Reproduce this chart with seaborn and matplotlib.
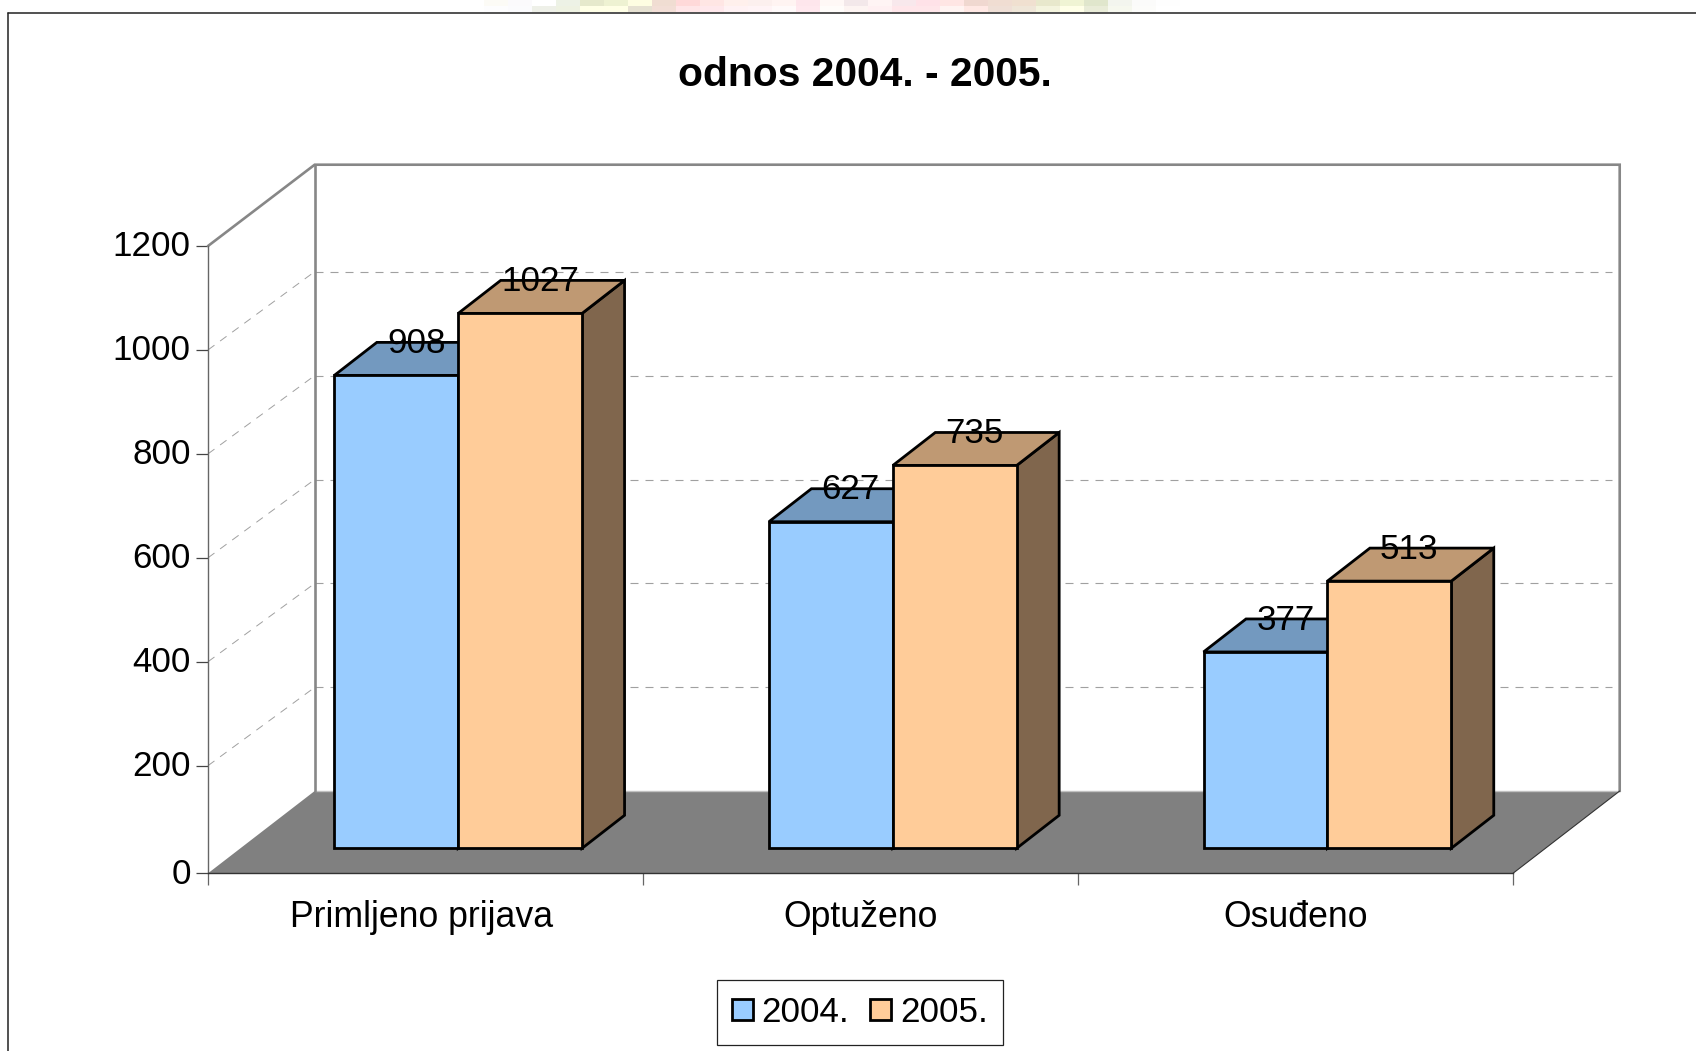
"""
plot.py
=======
Pseudo-3D clustered bars: odnos 2004. - 2005.
"""

import matplotlib
matplotlib.use("Agg")
import matplotlib.pyplot as plt
import numpy as np
import pandas as pd
import seaborn as sns
from matplotlib.colors import to_rgb
from matplotlib.lines import Line2D
from matplotlib.patches import Polygon
from matplotlib.transforms import ScaledTranslation

W, H = 1696, 1051
DPI = 100

categories = ["Primljeno prijava", "Optuženo", "Osuđeno"]
years = ["2004.", "2005."]
values_2004 = [908, 627, 377]
values_2005 = [1027, 735, 513]
y_ticks = [200, 400, 600, 800, 1000, 1200]

C_2004 = "#99CCFF"
C_2005 = "#FFCC99"
TOP = {C_2004: "#7399BF", C_2005: "#BF9973"}
SIDE = {C_2004: "#4D6680", C_2005: "#80664D"}

FONT_PT = 25.2

# washed-out remains of a page background above the chart frame
strip_top = ["#FFFFFF", "#FCFBF6", "#FBFAFC", "#FFFFFF", "#EDF2E6", "#E6E9CC", "#EEF2D2", "#FEFDE2",
             "#F0DDD2", "#FFD9D9", "#FFE6E4", "#FFF0EC", "#FCF0EE", "#FFF4F2", "#FEE6EC", "#FFF8F6",
             "#F3E8EA", "#FFF4F4", "#F8E8EC", "#FFE2E8", "#FFE6E4", "#F0D8D0", "#F0DDD2", "#F0E0D0",
             "#E8E8CC", "#F0F4D4", "#E0E6CC", "#F3F5EE", "#FBFBFA", "#FEFEFE", "#FFFFFF", "#FFFFFF",
             "#FFFFFF"]
strip_bottom = ["#FFFFFF", "#FDFDFE", "#FBFBFD", "#EEF0E8", "#EEF2E2", "#FFFFE6", "#FFFFE6", "#E6E1D2",
                "#F2DED6", "#FFE6E8", "#FFE8EC", "#FFF2F4", "#FFF4F6", "#FFFAFA", "#FFE8EE", "#FFFCFA",
                "#FDF4F2", "#FFF0F2", "#FFE6EA", "#FFE6EA", "#FFF4F2", "#FFE8E4", "#EFDFD6", "#EFE6D8",
                "#F4F4DE", "#FFFFE8", "#E9ECD8", "#F6F8EE", "#FCFCFA", "#FFFFFF", "#FFFFFF", "#FFFFFF",
                "#FFFFFF"]


def axes_px(fig, left, top, right, bottom):
    """Axes from pixel box, y counted from top of the image."""
    return fig.add_axes([left / W, 1 - bottom / H, (right - left) / W, (bottom - top) / H])


def shift_px(fig, dx, dy):
    return ScaledTranslation(dx / DPI, dy / DPI, fig.dpi_scale_trans)


sns.set_style("white")
plt.rcParams["font.family"] = ["Liberation Sans", "DejaVu Sans"]
plt.rcParams["text.color"] = "black"
plt.rcParams["xtick.labelcolor"] = "black"
plt.rcParams["ytick.labelcolor"] = "black"
plt.rcParams["lines.scale_dashes"] = False

df = pd.DataFrame({
    "kategorija": categories * 2,
    "godina": [years[0]] * 3 + [years[1]] * 3,
    "broj": values_2004 + values_2005,
})

fig = plt.figure(figsize=(W / DPI, H / DPI), dpi=DPI, facecolor="white")

strip_ax = axes_px(fig, 460, 0, 1252, 12)
strip_ax.imshow(np.array([[to_rgb(c) for c in strip_top], [to_rgb(c) for c in strip_bottom]]),
                aspect="auto", interpolation="nearest")
strip_ax.axis("off")

# chart frame, runs off the right and bottom of the image
fig.add_artist(Line2D([8 / W, 8 / W], [0, 1 - 12.7 / H], color="#222222", lw=1.1))
fig.add_artist(Line2D([8 / W, 1], [1 - 12.7 / H, 1 - 12.7 / H], color="#222222", lw=1.1))

fig.text(864.5 / W, 1 - 75.5 / H, "odnos 2004. - 2005.", ha="center", va="center",
         fontsize=29.3, fontweight="bold", color="black")

# --- walls, floor and value axis ---
# the value ticks sit 0.52 px per unit apart but the "0" tick is a little lower
unit_px = 519.7 / 1000
floor_val = -3.7 / unit_px

ax = axes_px(fig, 208, 246, 1513, 873.3)
ax.set_xlim(-0.5, 2.5)
ax.set_ylim(floor_val, 1200)
ax.patch.set_alpha(0)

wall_dx = 106.7 / (1305 / 3)
floor_dy = 82.3 / unit_px
grid_dy = 78.3 / unit_px
top_dy = 81.3 / unit_px

x_back_l = -0.5 + wall_dx
x_back_r = 2.5 + wall_dx
y_back_floor = floor_val + floor_dy
y_back_top = 1200 + top_dy

ax.add_patch(Polygon([(-0.5, floor_val), (2.5, floor_val), (x_back_r, y_back_floor), (x_back_l, y_back_floor)],
                     closed=True, fc="#808080", ec="none", clip_on=False, zorder=1))
ax.plot([x_back_l, x_back_r], [y_back_floor, y_back_floor], color="#C0C0C0", lw=1.0,
        clip_on=False, zorder=1)

for v in y_ticks[:-1]:
    ax.plot([-0.5, x_back_l], [v, v + grid_dy], color="#A0A0A0", lw=0.7,
            dashes=(5.76, 5.04), clip_on=False, zorder=0.5)
    ax.plot([x_back_l, x_back_r - 0.017], [v + grid_dy, v + grid_dy], color="#A0A0A0",
            lw=0.8, dashes=(5.76, 5.04), clip_on=False, zorder=0.5)

ax.plot([-0.5, x_back_l, x_back_r, x_back_r],
        [1200, y_back_top, y_back_top, y_back_floor], color="#878787", lw=1.9,
        solid_joinstyle="miter", clip_on=False, zorder=1.5)
ax.plot([x_back_l, x_back_l], [y_back_floor, y_back_top], color="#878787", lw=1.9,
        clip_on=False, zorder=1.5)
ax.plot([2.5, x_back_r], [floor_val, y_back_floor], color="#333333", lw=0.8, clip_on=False, zorder=1.5)

sns.despine(ax=ax, top=True, right=True)
ax.spines["left"].set_color("#666666")
ax.spines["left"].set_linewidth(1.0)
ax.spines["bottom"].set_color("#333333")
ax.spines["bottom"].set_linewidth(1.0)
ax.spines["left"].set_zorder(2)
ax.spines["bottom"].set_zorder(2)

ax.set_yticks([floor_val] + y_ticks)
ax.set_yticklabels(["0"] + [str(v) for v in y_ticks])
ax.set_xticks([-0.5, 0.5, 1.5, 2.5])
ax.set_xticklabels([])
ax.set_xticks([-0.01, 1, 2], minor=True)
ax.set_xticklabels(categories, minor=True, fontsize=25.7)
ax.tick_params(axis="x", which="major", length=8.6, width=0.9, color="#666666", bottom=True)
ax.tick_params(axis="x", which="minor", length=0, pad=19.5, bottom=True)
ax.tick_params(axis="y", length=8.6, width=0.9, color="#444444", pad=3.8, labelsize=FONT_PT, left=True)
ax.grid(False)
for lab in ax.get_yticklabels():
    lab.set_transform(lab.get_transform() + shift_px(fig, 0, 2.5))

# --- bars, on their own plane in front of the floor ---
bar_ax = axes_px(fig, 240.9, 223.3, 1544.7, 848.3)
bar_ax.patch.set_alpha(0)
sns.barplot(
    data=df, x="kategorija", y="broj", hue="godina", order=categories, hue_order=years,
    palette=[C_2004, C_2005], saturation=1, width=0.57, gap=0,
    edgecolor="black", linewidth=2.0, ax=bar_ax,
)
bar_ax.set_xlim(-0.5, 2.5)
bar_ax.set_ylim(0, 1200)
handles, labels = bar_ax.get_legend_handles_labels()
bar_ax.get_legend().remove()
bar_ax.axis("off")

depth_x = 42.5 / (1303.8 / 3)
depth_y = 33 / (625 / 1200)

for container, color in zip(bar_ax.containers, [C_2004, C_2005]):
    for bar in container:
        x0, w, h = bar.get_x(), bar.get_width(), bar.get_height()
        x1 = x0 + w
        top_face = [(x0, h), (x1, h), (x1 + depth_x, h + depth_y), (x0 + depth_x, h + depth_y)]
        side_face = [(x1, 0), (x1 + depth_x, depth_y), (x1 + depth_x, h + depth_y), (x1, h)]
        for pts, fc in ((side_face, SIDE[color]), (top_face, TOP[color])):
            bar_ax.add_patch(Polygon(pts, closed=True, fc=fc, ec="black", lw=2.0,
                                     joinstyle="miter", clip_on=False, zorder=0.5))
        bar.set_zorder(1)
        bar.set_clip_on(False)
        bar.set_joinstyle("miter")
        bar_ax.annotate(f"{h:.0f}", xy=(x0 + w / 2, h), xytext=(14.4, 23),
                        textcoords="offset points", ha="center", va="center",
                        fontsize=FONT_PT, color="black", annotation_clip=False, zorder=5)

leg = fig.legend(
    handles, labels, loc="center", bbox_to_anchor=(860 / W, 1 - 1012.3 / H), ncol=2,
    fontsize=FONT_PT, frameon=True, fancybox=False, framealpha=1, edgecolor="#222222",
    handlelength=0.58, handleheight=0.58, handletextpad=0.26, columnspacing=0.6,
    borderpad=0.45, borderaxespad=0,
)
leg.get_frame().set_linewidth(0.9)

fig.savefig("out.png", dpi=DPI)
plt.close(fig)
